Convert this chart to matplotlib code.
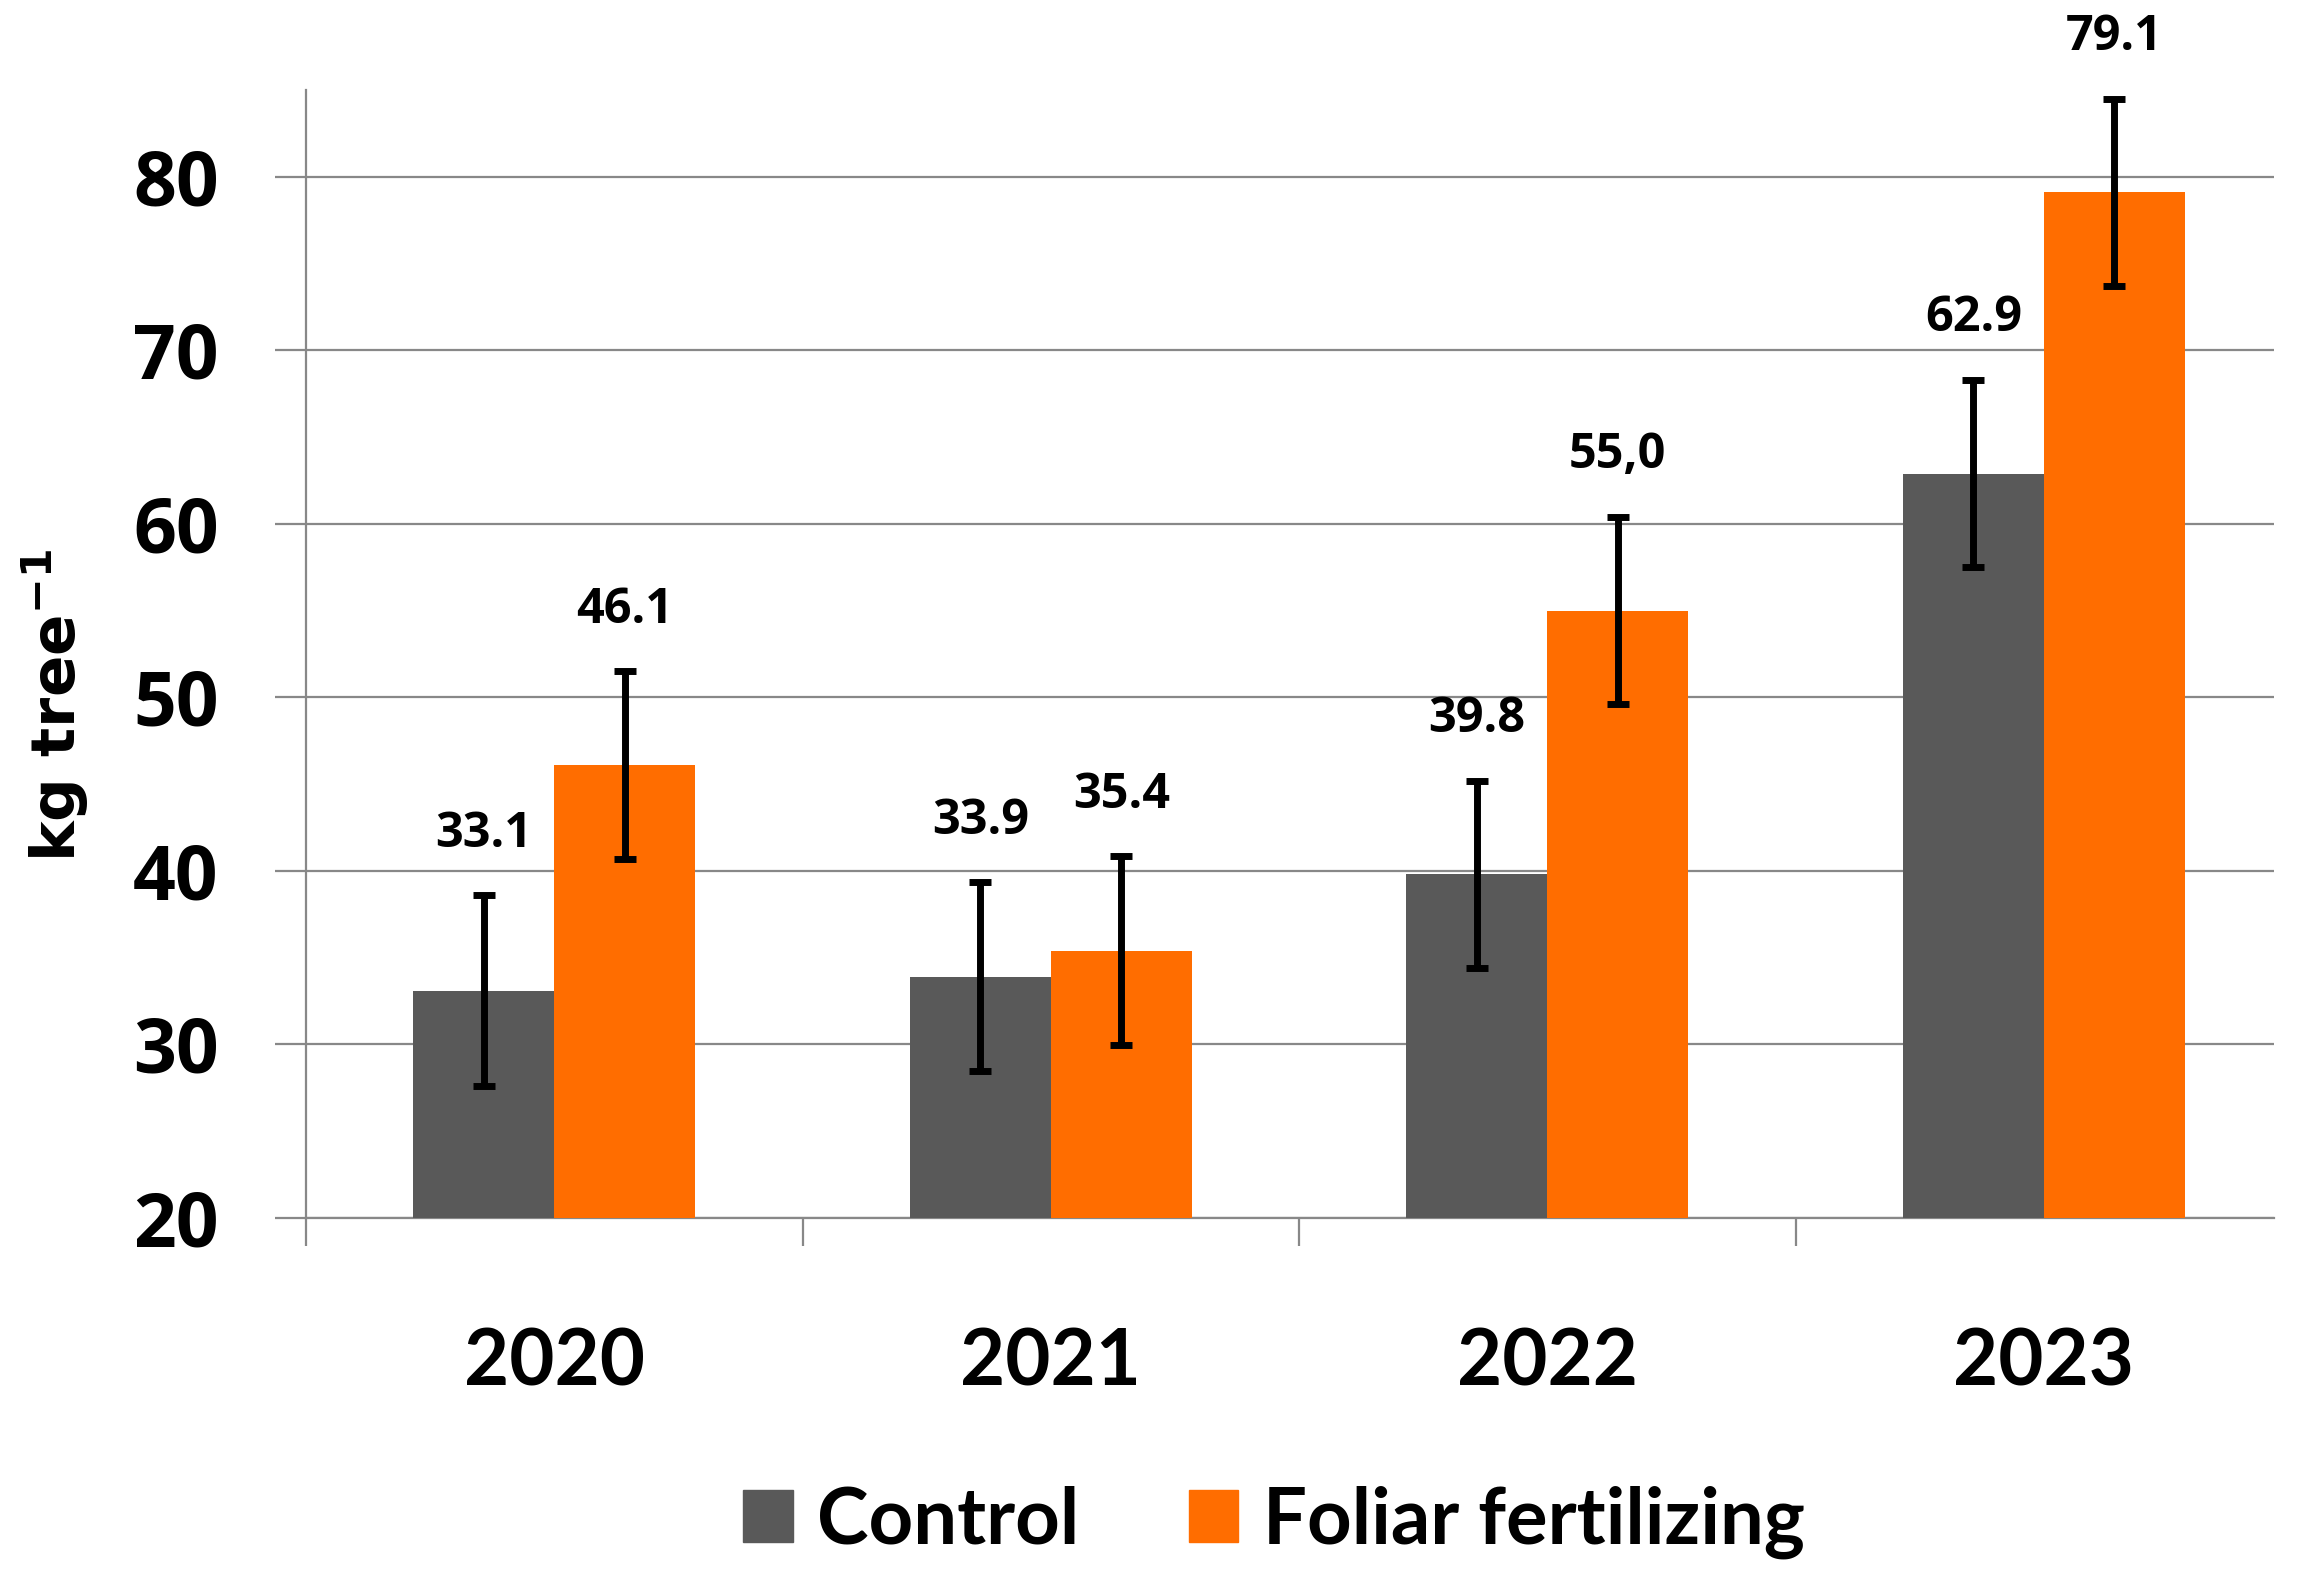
import numpy as np
import matplotlib
matplotlib.use("Agg")
import matplotlib.pyplot as plt
from matplotlib.patches import Patch

# data
years = ["2020", "2021", "2022", "2023"]
control = [33.1, 33.9, 39.8, 62.9]
foliar = [46.1, 35.4, 55.0, 79.1]
control_err = [5.5, 5.45, 5.4, 5.4]
foliar_err = [5.4, 5.45, 5.4, 5.4]
control_lbl = ["33.1", "33.9", "39.8", "62.9"]
foliar_lbl = ["46.1", "35.4", "55,0", "79.1"]
yticks = [20, 30, 40, 50, 60, 70, 80]

c_grey = "#595959"
c_orange = "#FF6D00"
c_grid = "#888888"
num_font = "Open Sans"

plt.rcParams["mathtext.fontset"] = "dejavusans"

fig = plt.figure(figsize=(23.02, 15.86), dpi=100)
ax = fig.add_axes([306/2302, 1 - 1218/1586, (2274-306)/2302, (1218-90)/1586])

x = np.arange(len(years))
w = 0.284
ax.bar(x - w/2, control, w, color=c_grey, zorder=3)
ax.bar(x + w/2, foliar, w, color=c_orange, zorder=3)
ax.errorbar(x - w/2, control, yerr=control_err, fmt="none", ecolor="black",
            elinewidth=5, capsize=8, capthick=5, zorder=4)
ax.errorbar(x + w/2, foliar, yerr=foliar_err, fmt="none", ecolor="black",
            elinewidth=5, capsize=8, capthick=5, zorder=4)

for xs, vals, errs, lbls in [(x - w/2, control, control_err, control_lbl),
                             (x + w/2, foliar, foliar_err, foliar_lbl)]:
    for xi, v, e, t in zip(xs, vals, errs, lbls):
        ax.annotate(t, (xi, v + e), xytext=(0, 44), textcoords="offset points",
                    ha="center", va="center", fontsize=35, fontweight="bold",
                    family=num_font, color="black", zorder=5,
                    annotation_clip=False)

ax.set_ylim(20, 85)
ax.set_xlim(-0.5, 3.5 - 18/496)
ax.set_yticks(yticks)
ax.set_yticklabels([str(t) for t in yticks], fontsize=54, fontweight="bold",
                   family=num_font)
ax.yaxis.grid(True, color=c_grid, linewidth=1.6, zorder=0)
ax.tick_params(axis="y", length=22, width=1.6, color=c_grid, pad=41)

# category boundaries as ticks, year names in between
ax.set_xticks([-0.5, 0.5, 1.5, 2.5])
ax.set_xticklabels([])
ax.tick_params(axis="x", which="major", length=20, width=1.6, color=c_grid)
ax.set_xticks(x, minor=True)
ax.set_xticklabels(years, minor=True, fontsize=56, fontweight="bold",
                   family="Lato")
ax.tick_params(axis="x", which="minor", length=0, pad=79)

for s in ["top", "right"]:
    ax.spines[s].set_visible(False)
for s in ["left", "bottom"]:
    ax.spines[s].set_color(c_grid)
    ax.spines[s].set_linewidth(1.6)

fig.text(0.024, 1 - 705/1586, r"kg tree$^{\mathbf{-1}}$", rotation=90,
         ha="center", va="center", fontsize=44, fontweight="bold",
         family="DejaVu Sans")

handles = [Patch(color=c_grey, label="Control"),
           Patch(color=c_orange, label="Foliar fertilizing")]
leg = fig.legend(handles=handles, loc="center", ncol=2,
                 bbox_to_anchor=(1274/2302, 1 - 1522/1586), frameon=False,
                 prop={"family": "Lato", "weight": "bold", "size": 56},
                 handlelength=0.64, handleheight=0.65, handletextpad=0.32,
                 columnspacing=1.4)

fig.savefig("out.png", dpi=100)
